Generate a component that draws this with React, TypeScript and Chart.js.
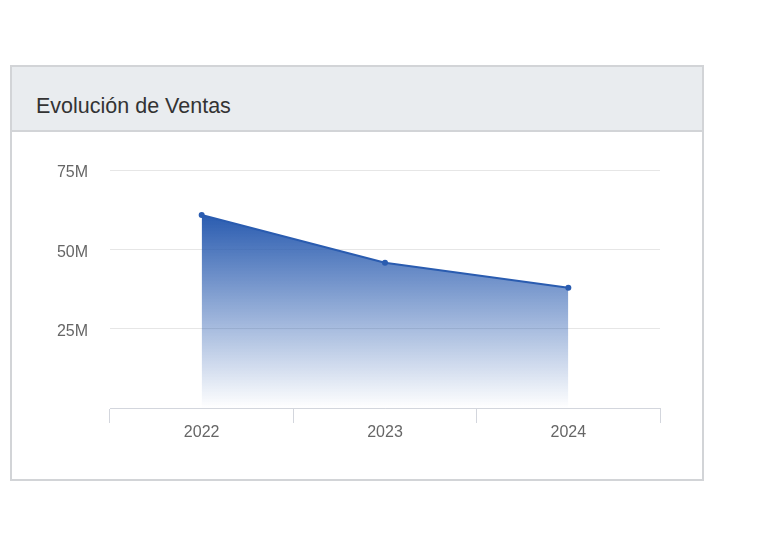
import React, { useEffect, useRef } from 'react';
import { Chart, registerables } from 'chart.js';

Chart.register(...registerables);

// Chart data
const years = ['2022', '2023', '2024'];
const sales = [60800000, 45800000, 37900000];
const yTickValues = [0, 25000000, 50000000, 75000000];
const yTickLabels = ['', '25M', '50M', '75M'];

const LINE_COLOR = '#2a5cb0';
const FONT = '"Liberation Sans", Arial, sans-serif';

const SalesChart: React.FC = () => {
  const chartRef = useRef<HTMLCanvasElement | null>(null);
  const chartInstance = useRef<Chart | null>(null);

  useEffect(() => {
    if (!chartRef.current) return;
    const ctx = chartRef.current.getContext('2d');
    if (!ctx) return;

    if (chartInstance.current) {
      chartInstance.current.destroy();
    }

    chartInstance.current = new Chart(ctx, {
      type: 'line',
      data: {
        labels: years,
        datasets: [
          {
            label: 'Ventas',
            data: sales,
            borderColor: LINE_COLOR,
            borderWidth: 2,
            pointRadius: 3,
            pointBackgroundColor: LINE_COLOR,
            pointBorderColor: LINE_COLOR,
            pointBorderWidth: 0,
            tension: 0,
            fill: 'origin',
            backgroundColor: (context: any) => {
              const chart = context.chart;
              const { ctx: c, chartArea, scales } = chart;
              if (!chartArea || !scales.y) return 'rgba(42, 92, 176, 0.6)';
              // gradient runs from the highest point down to the axis
              const top = scales.y.getPixelForValue(Math.max(...sales));
              const g = c.createLinearGradient(0, top, 0, chartArea.bottom);
              g.addColorStop(0, 'rgba(42, 92, 176, 1)');
              g.addColorStop(1, 'rgba(42, 92, 176, 0)');
              return g;
            },
          },
        ],
      },
      options: {
        responsive: true,
        maintainAspectRatio: false,
        animation: false,
        layout: {
          padding: { left: 0, right: 42, top: 38, bottom: 37 },
        },
        plugins: {
          legend: { display: false },
          title: { display: false },
          tooltip: { enabled: false },
        },
        scales: {
          x: {
            offset: true,
            afterFit: (scale: any) => {
              scale.height = 34;
            },
            grid: {
              offset: true,
              drawOnChartArea: false,
              drawTicks: true,
              tickLength: 15,
              color: '#d3d6dd',
              lineWidth: 1,
            },
            border: {
              display: true,
              color: '#d3d6dd',
              width: 1,
            },
            ticks: {
              color: '#666',
              padding: 0,
              font: { family: FONT, size: 16 },
            },
          },
          y: {
            min: 0,
            max: 75000000,
            afterFit: (scale: any) => {
              scale.width = 98;
            },
            afterBuildTicks: (scale: any) => {
              scale.ticks = yTickValues.map(v => ({ value: v }));
            },
            grid: {
              drawTicks: false,
              color: '#e6e6e6',
              lineWidth: 1,
            },
            border: { display: false },
            ticks: {
              color: '#666',
              padding: 22,
              labelOffset: 3,
              font: { family: FONT, size: 16 },
              callback: (value: any) => {
                const i = yTickValues.indexOf(Number(value));
                return i >= 0 ? yTickLabels[i] : '';
              },
            },
          },
        },
      },
    });

    return () => {
      if (chartInstance.current) {
        chartInstance.current.destroy();
        chartInstance.current = null;
      }
    };
  }, []);

  return (
    <div
      style={{
        position: 'absolute',
        left: 10,
        top: 65,
        width: 694,
        height: 416,
        boxSizing: 'border-box',
        border: '2px solid #d2d4d7',
        background: '#fff',
        fontFamily: FONT,
      }}
    >
      <div
        style={{
          height: 65,
          boxSizing: 'border-box',
          background: '#e9ecef',
          borderBottom: '2px solid #d2d4d7',
          paddingLeft: 24,
          paddingTop: 27,
          fontSize: '21.5px',
          color: '#333',
        }}
      >
        Evolución de Ventas
      </div>
      <div style={{ position: 'relative', width: 690, height: 347 }}>
        <canvas ref={chartRef} />
      </div>
    </div>
  );
};

export default function App() {
  return <SalesChart />;
}
